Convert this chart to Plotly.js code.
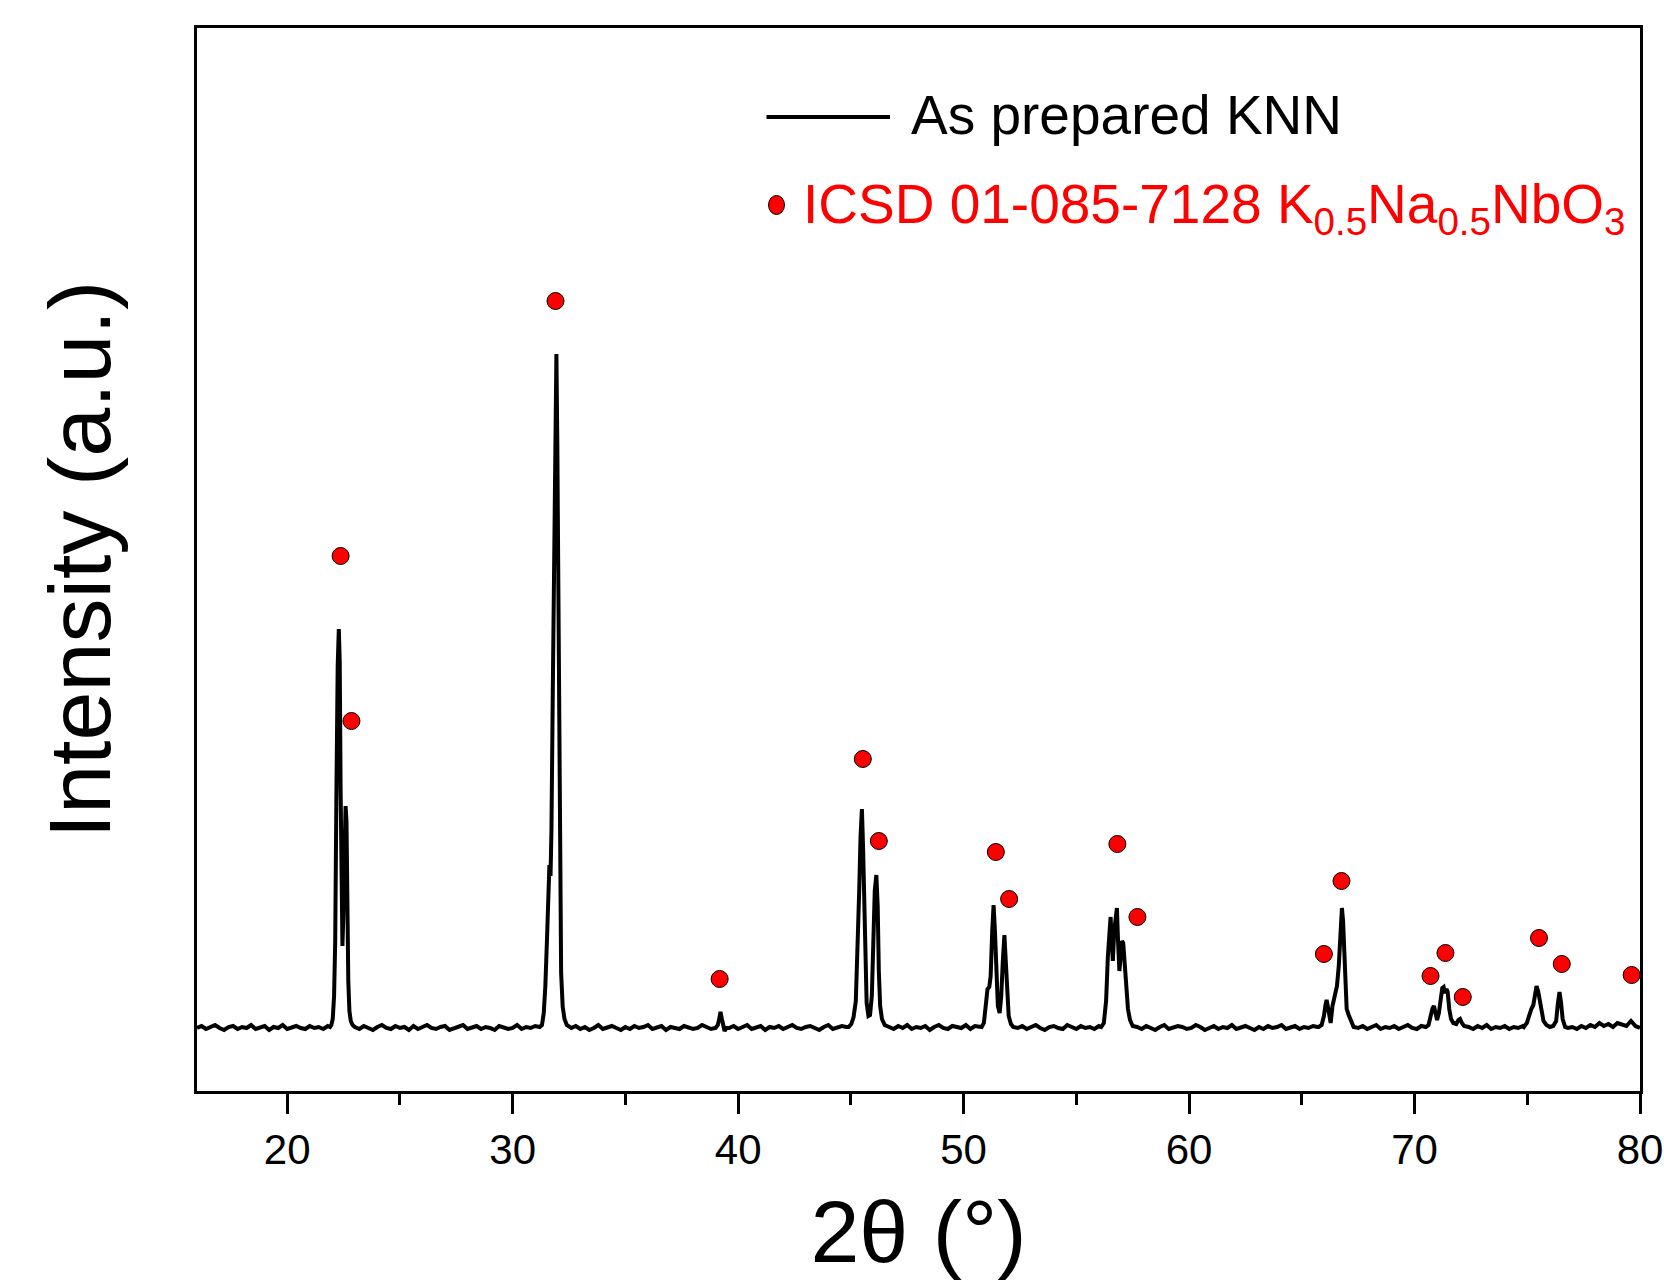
<!DOCTYPE html>
<html>
<head>
<meta charset="utf-8">
<script src="https://cdn.plot.ly/plotly-3.0.1.min.js"></script>
<style>
  html, body { margin: 0; padding: 0; background: #ffffff; }
  #chart { width: 1664px; height: 1288px; }
</style>
</head>
<body>
<div id="chart"></div>
<script>
const bg_16_22 = [[16.0,63],[16.2,65],[16.4,62],[16.6,64],[16.8,66],[17.0,63],[17.2,61],[17.4,64],[17.6,65],[17.8,62],[18.0,64],[18.2,63],[18.4,66],[18.6,62],[18.8,63],[19.0,65],[19.2,61],[19.4,64],[19.6,63],[19.8,66],[20.0,62],[20.2,64],[20.4,65],[20.6,63],[20.8,62],[21.0,65],[21.2,63],[21.4,64],[21.6,62],[21.8,65]];
const pk_22 = [[21.90,64],[21.96,66],[22.02,72],[22.08,95],[22.13,150],[22.18,290],[22.21,410],[22.24,425],[22.29,462],[22.33,430],[22.37,300],[22.41,200],[22.45,145],[22.49,175],[22.54,250],[22.59,285],[22.63,270],[22.67,180],[22.71,110],[22.76,80],[22.82,70],[22.90,66]];
const bg_23_31 = [[23.0,64],[23.2,62],[23.4,65],[23.6,63],[23.8,61],[24.0,64],[24.2,66],[24.4,63],[24.6,62],[24.8,65],[25.0,63],[25.2,64],[25.4,61],[25.6,65],[25.8,62],[26.0,64],[26.2,66],[26.4,63],[26.6,62],[26.8,64],[27.0,65],[27.2,61],[27.4,63],[27.6,64],[27.8,66],[28.0,62],[28.2,63],[28.4,65],[28.6,62],[28.8,64],[29.0,63],[29.2,61],[29.4,65],[29.6,64],[29.8,62],[30.0,63],[30.2,66],[30.4,62],[30.6,64],[30.8,63],[31.0,65]];
const pk_32 = [[31.20,64],[31.30,66],[31.38,78],[31.45,105],[31.52,150],[31.58,205],[31.63,226],[31.68,215],[31.72,260],[31.78,400],[31.84,510],[31.89,640],[31.94,737],[31.98,650],[32.02,495],[32.06,330],[32.10,190],[32.15,118],[32.22,84],[32.30,72],[32.40,66]];
const bg_33_39 = [[32.6,63],[32.8,65],[33.0,62],[33.2,64],[33.4,61],[33.6,63],[33.8,66],[34.0,62],[34.2,64],[34.4,65],[34.6,63],[34.8,61],[35.0,64],[35.2,62],[35.4,65],[35.6,63],[35.8,64],[36.0,66],[36.2,62],[36.4,63],[36.6,65],[36.8,61],[37.0,64],[37.2,63],[37.4,62],[37.6,65],[37.8,64],[38.0,62],[38.2,63],[38.4,66],[38.6,64],[38.8,62],[39.0,63]];
const pk_39 = [[39.10,66],[39.16,72],[39.22,79],[39.28,72],[39.34,63],[39.40,60],[39.48,63]];
const bg_40_45 = [[39.6,63],[39.8,65],[40.0,62],[40.2,64],[40.4,66],[40.6,62],[40.8,63],[41.0,65],[41.2,61],[41.4,64],[41.6,63],[41.8,65],[42.0,62],[42.2,64],[42.4,66],[42.6,63],[42.8,62],[43.0,64],[43.2,65],[43.4,63],[43.6,61],[43.8,64],[44.0,66],[44.2,62],[44.4,63],[44.6,65],[44.8,64]];
const pk_45 = [[44.90,64],[45.02,67],[45.12,74],[45.22,90],[45.30,140],[45.37,200],[45.43,255],[45.49,282],[45.54,245],[45.59,180],[45.64,125],[45.70,88],[45.78,75],[45.85,76],[45.93,95],[46.00,140],[46.06,200],[46.13,216],[46.19,185],[46.24,120],[46.30,85],[46.38,72],[46.50,66]];
const bg_47_51 = [[46.7,64],[46.9,62],[47.1,65],[47.3,63],[47.5,66],[47.7,62],[47.9,64],[48.1,63],[48.3,65],[48.5,61],[48.7,64],[48.9,66],[49.1,63],[49.3,62],[49.5,65],[49.7,64],[49.9,63],[50.1,66],[50.3,62],[50.5,65],[50.7,64]];
const pk_51 = [[50.80,64],[50.90,68],[50.98,85],[51.06,102],[51.14,104],[51.20,115],[51.27,160],[51.33,186],[51.39,160],[51.45,110],[51.52,85],[51.60,78],[51.67,95],[51.74,130],[51.81,156],[51.87,130],[51.93,95],[52.00,75],[52.10,67],[52.20,64]];
const bg_52_56 = [[52.4,63],[52.6,65],[52.8,62],[53.0,64],[53.2,66],[53.4,63],[53.6,61],[53.8,64],[54.0,65],[54.2,63],[54.4,62],[54.6,66],[54.8,64],[55.0,62],[55.2,65],[55.4,63],[55.6,64],[55.8,62],[56.0,65]];
const pk_57 = [[56.10,64],[56.22,68],[56.32,90],[56.40,135],[56.46,165],[56.52,174],[56.57,150],[56.62,130],[56.68,160],[56.74,178],[56.80,183],[56.85,150],[56.91,120],[56.97,135],[57.03,150],[57.08,148],[57.14,125],[57.21,100],[57.29,82],[57.38,71],[57.50,65]];
const bg_58_66 = [[57.7,64],[57.9,62],[58.1,65],[58.3,63],[58.5,61],[58.7,64],[58.9,66],[59.1,62],[59.3,63],[59.5,65],[59.7,64],[59.9,62],[60.1,63],[60.3,66],[60.5,64],[60.7,61],[60.9,63],[61.1,65],[61.3,62],[61.5,64],[61.7,63],[61.9,66],[62.1,62],[62.3,64],[62.5,65],[62.7,63],[62.9,61],[63.1,64],[63.3,62],[63.5,65],[63.7,63],[63.9,64],[64.1,66],[64.3,62],[64.5,63],[64.7,65],[64.9,62],[65.1,64],[65.3,63],[65.5,65],[65.7,64]];
const pk_66 = [[65.75,64],[65.88,66],[65.98,75],[66.05,86],[66.10,91],[66.16,84],[66.22,72],[66.28,68],[66.36,85],[66.46,96],[66.56,105],[66.64,125],[66.71,160],[66.78,183],[66.83,170],[66.88,140],[66.93,100],[66.99,82],[67.08,76],[67.18,70],[67.30,64]];
const bg_68_70 = [[67.5,63],[67.7,65],[67.9,62],[68.1,64],[68.3,66],[68.5,62],[68.7,64],[68.9,63],[69.1,65],[69.3,62],[69.5,64],[69.7,66],[69.9,63],[70.1,62],[70.3,65]];
const pk_71 = [[70.50,64],[70.62,66],[70.72,76],[70.80,83],[70.86,85],[70.93,78],[71.00,71],[71.08,78],[71.16,92],[71.23,103],[71.29,104],[71.35,98],[71.42,102],[71.47,99],[71.54,82],[71.62,72],[71.72,68],[71.85,67],[71.95,71],[72.02,72],[72.10,68],[72.20,65]];
const bg_72_75 = [[72.4,64],[72.6,62],[72.8,65],[73.0,63],[73.2,66],[73.4,62],[73.6,64],[73.8,63],[74.0,65],[74.2,62],[74.4,64],[74.6,63],[74.8,65]];
const pk_75 = [[74.85,64],[74.98,68],[75.08,76],[75.18,82],[75.27,86],[75.35,100],[75.41,105],[75.48,100],[75.55,90],[75.62,80],[75.72,70],[75.85,66],[76.00,64],[76.15,65],[76.28,70],[76.36,88],[76.43,99],[76.50,88],[76.57,72],[76.68,64]];
const bg_77_80 = [[76.8,63],[77.0,64],[77.2,62],[77.4,65],[77.6,63],[77.8,66],[78.0,64],[78.2,68],[78.4,65],[78.6,67],[78.8,64],[79.0,68],[79.2,66],[79.4,65],[79.6,70],[79.8,65],[80.0,63]];

// ---- ICSD 01-085-7128 reference reflections (marker positions) ----
const refTheta     = [22.37, 22.85, 31.90, 39.18, 45.53, 46.24, 51.43, 52.02, 56.82, 57.71, 65.98, 66.76, 70.71, 71.37, 72.14, 75.52, 76.53, 79.63];
const refIntensity = [535,   370,   790,   112,   332,   250,   239,   192,   247,   174,   137,   210,   115,   138,   94,    153,   127,   116];

// ---- Axis ticks ----
const xTickVals = [20, 30, 40, 50, 60, 70, 80];
const xTickText = ['20', '30', '40', '50', '60', '70', '80'];
const xMinorVals = [25, 35, 45, 55, 65, 75];

const scan = [].concat(bg_16_22, pk_22, bg_23_31, pk_32, bg_33_39, pk_39, bg_40_45, pk_45,
                       bg_47_51, pk_51, bg_52_56, pk_57, bg_58_66, pk_66, bg_68_70, pk_71,
                       bg_72_75, pk_75, bg_77_80);
const scanX = scan.map(p => p[0]);
const scanY = scan.map(p => p[1]);

const FONT = 'Arial, "Liberation Sans", Helvetica, sans-serif';

const traces = [
  {
    type: 'scatter', mode: 'lines', name: 'As prepared KNN',
    x: scanX, y: scanY,
    line: { color: '#000000', width: 4 },
    showlegend: false, hoverinfo: 'skip'
  },
  {
    type: 'scatter', mode: 'markers', name: 'ICSD 01-085-7128',
    x: refTheta, y: refIntensity,
    marker: { symbol: 'circle', size: 17, color: '#ff0000', line: { color: '#000000', width: 1 } },
    showlegend: false, hoverinfo: 'skip'
  }
];

// pixel -> paper helpers for the hand-placed legend block
const L = 197, R = 1640, T = 28, B = 1091;
const px = v => (v - L) / (R - L);
const py = v => (B - v) / (B - T);

const layout = {
  width: 1664, height: 1288,
  margin: { l: L, r: 1664 - R, t: T, b: 1288 - B, pad: 0 },
  paper_bgcolor: '#ffffff', plot_bgcolor: '#ffffff',
  font: { family: FONT, color: '#000000' },
  showlegend: false,
  xaxis: {
    range: [16, 80], tickmode: 'array', tickvals: xTickVals, ticktext: xTickText,
    ticks: 'outside', ticklen: 20, tickwidth: 3, tickcolor: '#000000',
    minor: { ticks: 'outside', ticklen: 11, tickwidth: 3, tickcolor: '#000000', tickmode: 'array', tickvals: xMinorVals },
    showline: true, linewidth: 3, linecolor: '#000000', mirror: true,
    showgrid: false, zeroline: false,
    tickfont: { family: FONT, size: 42, color: '#000000' },
    title: { text: '2θ (°)', font: { family: FONT, size: 88, color: '#000000' }, standoff: 28 }
  },
  yaxis: {
    range: [0, 1063], showticklabels: false, ticks: '',
    showline: true, linewidth: 3, linecolor: '#000000', mirror: true,
    showgrid: false, zeroline: false,
    title: { text: 'Intensity (a.u.)', font: { family: FONT, size: 88, color: '#000000' }, standoff: 55 }
  },
  shapes: [
    { type: 'line', xref: 'paper', yref: 'paper', x0: px(766.5), x1: px(890), y0: py(117), y1: py(117),
      line: { color: '#000000', width: 4 } },
    { type: 'circle', xref: 'paper', yref: 'paper', xsizemode: 'pixel', ysizemode: 'pixel',
      xanchor: px(776.5), yanchor: py(205), x0: -8, x1: 8, y0: -9.5, y1: 9.5,
      fillcolor: '#ff0000', line: { color: '#000000', width: 1 } }
  ],
  annotations: [
    { xref: 'paper', yref: 'paper', x: px(909), y: py(115), xanchor: 'left', yanchor: 'middle',
      text: 'As prepared KNN', showarrow: false,
      font: { family: FONT, size: 55, color: '#000000' } },
    { xref: 'paper', yref: 'paper', x: px(801), y: py(208), xanchor: 'left', yanchor: 'middle',
      text: 'ICSD 01-085-7128 K<sub>0.5</sub>Na<sub>0.5</sub>NbO<sub>3</sub>', showarrow: false,
      font: { family: FONT, size: 55, color: '#ff0000' } }
  ]
};

Plotly.newPlot('chart', traces, layout, { displayModeBar: false, staticPlot: true });
</script>
</body>
</html>
